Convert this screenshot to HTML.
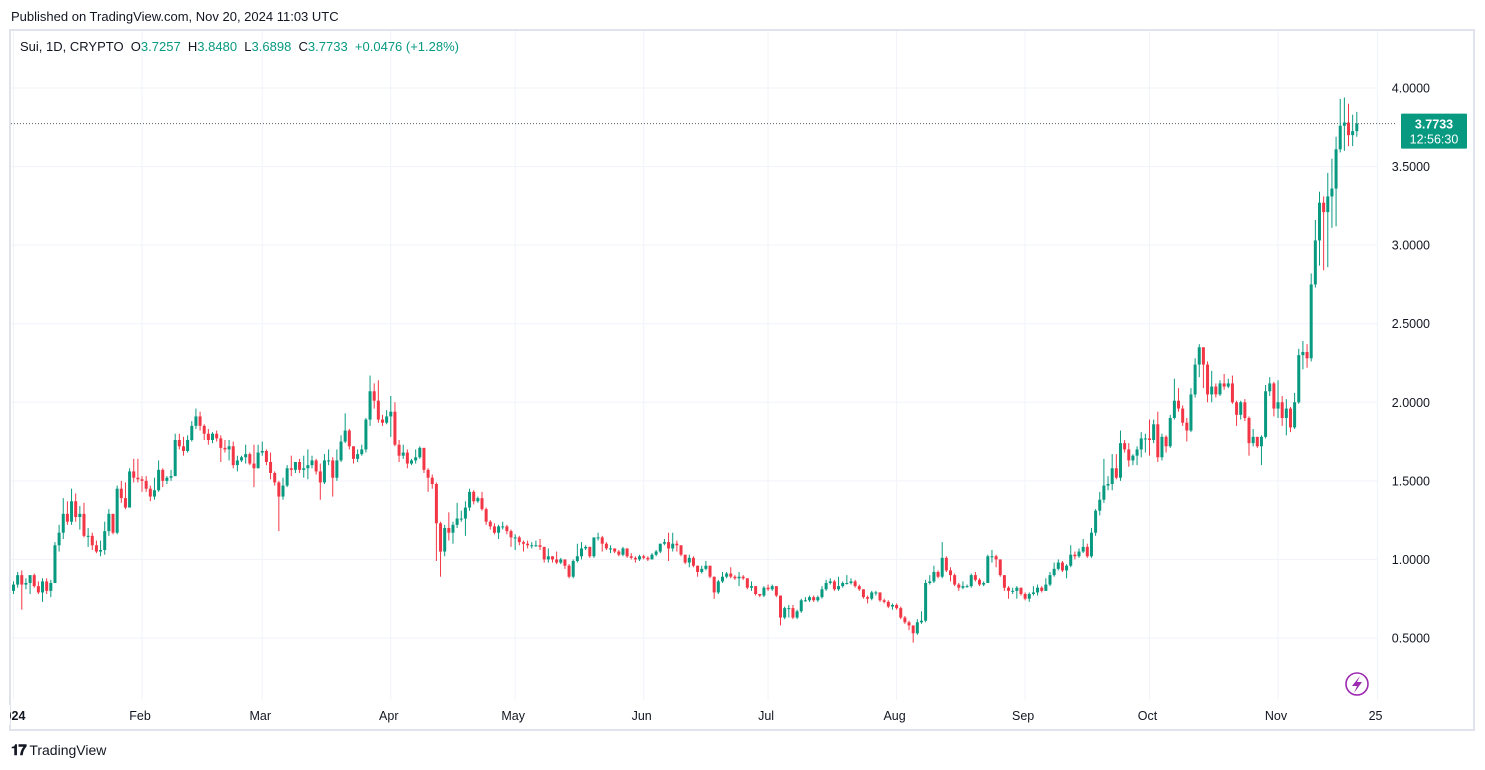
<!DOCTYPE html>
<html><head><meta charset="utf-8"><style>
html,body{margin:0;padding:0;background:#fff;}
body{width:1485px;height:770px;position:relative;overflow:hidden;font-family:"Liberation Sans",sans-serif;}
.t{position:absolute;white-space:nowrap;}
</style></head><body>
<div class="t" style="left:11px;top:9px;font-size:13px;color:#131722;">Published on TradingView.com, Nov 20, 2024 11:03 UTC</div>
<svg id="chart" width="1485" height="770" style="position:absolute;left:0;top:0" xmlns="http://www.w3.org/2000/svg"></svg>
<div class="t" style="left:20px;top:39px;font-size:13px;color:#131722;">Sui, 1D, CRYPTO&nbsp; O<span style="color:#089981">3.7257</span>&nbsp; H<span style="color:#089981">3.8480</span>&nbsp; L<span style="color:#089981">3.6898</span>&nbsp; C<span style="color:#089981">3.7733</span>&nbsp; <span style="color:#089981">+0.0476 (+1.28%)</span></div>
<div class="t" style="left:11px;top:742px;font-size:14px;color:#131722;"><b style="font-size:15px;letter-spacing:-1px">𝟏𝟕</b> TradingView</div>
<script>
const closes=[0.84,0.90,0.84,0.85,0.90,0.83,0.79,0.86,0.80,0.85,1.09,1.17,1.29,1.24,1.37,1.27,1.29,1.15,1.15,1.09,1.05,1.06,1.18,1.29,1.17,1.45,1.39,1.33,1.56,1.52,1.51,
1.50,1.45,1.40,1.44,1.57,1.50,1.52,1.53,1.76,1.72,1.69,1.76,1.85,1.91,1.85,1.80,1.76,1.80,1.77,1.71,1.70,1.72,1.60,1.63,1.65,1.67,1.61,1.58,1.68,
1.69,1.62,1.55,1.49,1.40,1.47,1.58,1.57,1.62,1.57,1.58,1.60,1.63,1.56,1.49,1.63,1.63,1.52,1.63,1.75,1.82,1.72,1.64,1.67,1.70,1.89,2.07,2.01,1.89,1.87,1.91,
1.94,1.73,1.66,1.68,1.61,1.63,1.65,1.71,1.57,1.52,1.48,1.23,1.05,1.20,1.17,1.22,1.26,1.26,1.33,1.43,1.37,1.39,1.32,1.24,1.21,1.17,1.21,1.21,1.18,1.14,
1.14,1.11,1.10,1.09,1.09,1.09,1.08,1.00,1.02,1.00,0.98,1.00,0.96,0.89,0.99,1.02,1.07,1.08,1.02,1.14,1.14,1.10,1.07,1.07,1.05,1.03,1.07,1.02,1.01,1.00,1.02,
1.01,1.00,1.03,1.05,1.10,1.11,1.07,1.10,1.09,1.03,0.98,1.01,0.96,0.92,0.94,0.96,0.89,0.79,0.86,0.89,0.91,0.89,0.88,0.89,0.88,0.82,0.83,0.78,0.77,0.82,
0.81,0.83,0.77,0.63,0.69,0.69,0.63,0.67,0.74,0.74,0.76,0.74,0.76,0.81,0.85,0.86,0.81,0.83,0.85,0.85,0.86,0.83,0.81,0.76,0.75,0.79,0.79,0.74,0.73,0.70,0.71,
0.69,0.63,0.60,0.58,0.53,0.60,0.61,0.85,0.86,0.92,0.89,1.01,0.93,0.90,0.84,0.82,0.83,0.83,0.90,0.87,0.84,0.85,1.02,1.02,1.00,0.90,0.82,0.80,0.80,0.82,0.78,
0.75,0.78,0.79,0.82,0.80,0.84,0.90,0.94,0.98,0.93,0.96,1.03,1.02,1.05,1.08,1.02,1.17,1.31,1.38,1.47,1.48,1.58,1.52,1.74,1.70,1.63,1.66,1.70,1.77,1.77,
1.76,1.86,1.65,1.78,1.72,1.90,2.01,1.96,1.87,1.82,2.05,2.24,2.35,2.24,2.05,2.10,2.05,2.12,2.10,2.12,2.00,1.92,2.00,1.90,1.74,1.78,1.72,1.78,2.07,2.12,1.96,
2.00,1.90,1.96,1.84,2.00,2.30,2.32,2.28,2.75,3.03,3.27,3.21,3.31,3.36,3.61,3.76,3.78,3.70,3.7257,3.7733];
const highs=[0.86,0.92,0.93,0.88,0.90,0.91,0.86,0.88,0.88,0.87,1.11,1.22,1.39,1.37,1.45,1.42,1.34,1.36,1.20,1.17,1.12,1.12,1.24,1.32,1.29,1.47,1.50,1.49,1.58,1.64,1.64,
1.53,1.53,1.47,1.52,1.63,1.58,1.53,1.57,1.80,1.80,1.78,1.79,1.88,1.96,1.94,1.86,1.83,1.81,1.82,1.79,1.76,1.76,1.75,1.66,1.66,1.73,1.68,1.73,1.73,
1.75,1.70,1.68,1.56,1.50,1.52,1.60,1.66,1.62,1.64,1.66,1.70,1.66,1.64,1.61,1.67,1.70,1.65,1.70,1.79,1.93,1.83,1.72,1.70,1.73,1.90,2.17,2.12,2.14,1.92,1.95,
2.04,2.00,1.76,1.73,1.70,1.64,1.70,1.72,1.71,1.58,1.54,1.49,1.24,1.22,1.30,1.24,1.36,1.31,1.37,1.45,1.44,1.40,1.43,1.33,1.25,1.23,1.22,1.24,1.22,1.19,
1.16,1.15,1.12,1.12,1.11,1.12,1.13,1.08,1.07,1.02,1.05,1.01,1.00,0.97,1.00,1.10,1.11,1.09,1.08,1.14,1.17,1.15,1.11,1.09,1.07,1.06,1.08,1.07,1.04,1.02,1.03,
1.03,1.02,1.04,1.06,1.10,1.13,1.17,1.17,1.12,1.09,1.03,1.03,1.02,0.96,0.96,0.99,0.96,0.89,0.87,0.92,0.92,0.95,0.90,0.92,0.90,0.88,0.86,0.83,0.78,0.83,
0.84,0.84,0.83,0.77,0.70,0.71,0.71,0.68,0.75,0.76,0.77,0.77,0.77,0.83,0.87,0.88,0.87,0.89,0.86,0.90,0.88,0.87,0.84,0.81,0.77,0.80,0.80,0.79,0.75,0.74,0.72,
0.72,0.70,0.64,0.61,0.58,0.62,0.67,0.87,0.90,0.96,0.93,1.11,1.02,0.95,0.91,0.85,0.86,0.84,0.91,0.92,0.88,0.86,1.03,1.06,1.03,1.00,0.90,0.83,0.82,0.83,0.82,
0.79,0.79,0.83,0.84,0.83,0.88,0.92,0.98,1.00,0.99,0.97,1.09,1.05,1.07,1.13,1.10,1.20,1.32,1.43,1.64,1.53,1.67,1.67,1.82,1.76,1.74,1.67,1.72,1.81,1.80,
1.89,1.89,1.94,1.80,1.79,1.92,2.15,2.09,1.98,1.90,2.09,2.28,2.37,2.35,2.26,2.20,2.12,2.14,2.18,2.15,2.17,2.01,2.01,2.02,1.91,1.83,1.78,1.79,2.11,2.16,2.13,
2.14,2.04,2.02,1.97,2.06,2.34,2.39,2.37,2.82,3.16,3.34,3.31,3.46,3.55,3.69,3.93,3.94,3.90,3.83,3.848];
const lows=[0.78,0.82,0.68,0.81,0.78,0.82,0.78,0.73,0.78,0.76,0.85,1.05,1.13,1.22,1.22,1.24,1.19,1.14,1.08,1.06,1.04,1.02,1.03,1.15,1.16,1.16,1.36,1.32,1.33,1.49,1.49,
1.43,1.43,1.37,1.38,1.43,1.46,1.48,1.50,1.53,1.70,1.66,1.68,1.75,1.83,1.82,1.76,1.73,1.74,1.75,1.62,1.68,1.63,1.58,1.56,1.62,1.61,1.60,1.46,1.58,
1.66,1.60,1.51,1.47,1.18,1.38,1.46,1.53,1.55,1.55,1.52,1.51,1.58,1.54,1.38,1.48,1.60,1.40,1.50,1.62,1.74,1.70,1.61,1.62,1.66,1.68,1.85,1.96,1.87,1.85,1.86,
1.78,1.72,1.62,1.64,1.58,1.60,1.61,1.64,1.55,1.43,1.45,0.99,0.89,1.02,1.12,1.10,1.20,1.24,1.15,1.31,1.35,1.36,1.31,1.22,1.19,1.16,1.13,1.19,1.16,1.08,
1.06,1.09,1.05,1.07,1.07,1.08,1.06,0.98,0.98,0.98,0.97,0.97,0.94,0.88,0.88,0.98,1.00,1.06,1.01,1.01,1.12,1.05,1.06,1.04,1.04,1.02,1.02,1.01,1.00,0.98,0.99,
1.00,0.99,1.00,1.02,1.04,1.09,0.99,1.05,1.05,1.02,0.97,0.95,0.95,0.89,0.91,0.93,0.88,0.75,0.78,0.85,0.88,0.88,0.87,0.83,0.87,0.81,0.80,0.77,0.76,0.76,
0.80,0.80,0.76,0.58,0.62,0.63,0.62,0.62,0.66,0.73,0.73,0.73,0.73,0.75,0.80,0.84,0.80,0.80,0.82,0.84,0.84,0.82,0.80,0.75,0.72,0.74,0.77,0.73,0.72,0.69,0.68,
0.68,0.62,0.59,0.55,0.47,0.52,0.59,0.60,0.84,0.85,0.88,0.88,0.92,0.86,0.83,0.80,0.81,0.82,0.82,0.86,0.83,0.83,0.85,0.98,0.95,0.89,0.80,0.75,0.78,0.75,0.77,
0.74,0.73,0.77,0.77,0.79,0.80,0.83,0.89,0.93,0.92,0.88,0.95,1.00,1.01,1.04,1.01,1.01,1.15,1.28,1.36,1.44,1.44,1.51,1.50,1.68,1.59,1.60,1.60,1.65,1.68,
1.66,1.74,1.62,1.63,1.68,1.71,1.89,1.94,1.85,1.75,1.81,2.03,2.16,2.09,2.00,2.00,2.03,2.04,2.08,2.09,1.99,1.85,1.89,1.88,1.66,1.72,1.71,1.60,1.77,2.04,1.91,
1.90,1.85,1.79,1.81,1.83,1.99,2.21,2.22,2.26,2.73,2.87,2.84,2.86,3.11,3.12,3.59,3.60,3.63,3.63,3.6898];
const priceTicks=[0.5,1.0,1.5,2.0,2.5,3.0,3.5,4.0];
const monthLabels=["2024","Feb","Mar","Apr","May","Jun","Jul","Aug","Sep","Oct","Nov","25"];
const monthDayIndex=[0,31,60,91,121,152,182,213,244,274,305,329];
const firstOpen=0.80;
const lastPrice=3.7733;

const NS="http://www.w3.org/2000/svg";
const svg=document.getElementById('chart');
const X0=13.5, STEP=4.146, PLOT_L=11, PLOT_R=1377, PLOT_T=31, PLOT_B=700;
function xScale(i){return X0+i*STEP;}
function yScale(p){return 88+(4-p)*157.14;}
function mk(tag,attrs,parent){const e=document.createElementNS(NS,tag);for(const k in attrs)e.setAttribute(k,attrs[k]);(parent||svg).appendChild(e);return e;}

const frame=mk('rect',{x:10,y:30,width:1464,height:700,fill:'none',stroke:'#e0e3eb','stroke-width':2});


const gridG=mk('g',{});


priceTicks.forEach(p=>{
  const y=yScale(p);
  const l=mk('line',{x1:PLOT_L,x2:PLOT_R,y1:y,y2:y,stroke:'#f0f3fa','stroke-width':1},gridG);
  
  
  const t=mk('text',{x:1430,y:y+4.5,'text-anchor':'end','font-size':12.5,fill:'#131722','font-family':'Liberation Sans, sans-serif'});
  t.textContent=p.toFixed(4);
  
  
});
monthLabels.forEach((m,k)=>{
  const x=xScale(monthDayIndex[k]);
  const l=mk('line',{x1:x,x2:x,y1:PLOT_T,y2:PLOT_B,stroke:'#f0f3fa','stroke-width':1},gridG);
  
  
  const t=mk('text',{x:x-2,y:720,'text-anchor':'middle','font-size':12.5,fill:'#131722','font-weight':k==0?'bold':'normal','font-family':'Liberation Sans, sans-serif'});
  t.textContent=m;
  
  
});
const cp=mk('rect',{x:0,y:705,width:10,height:20,fill:'#fff'});



const lp=mk('line',{x1:PLOT_L,x2:PLOT_R+20,y1:yScale(lastPrice),y2:yScale(lastPrice),stroke:'#5d606b','stroke-width':1,'stroke-dasharray':'1 2'});



const cg=mk('g',{});


closes.forEach((c,i)=>{
  const o=i==0?firstOpen:closes[i-1];
  const up=c>=o, col=up?'#089981':'#f23645';
  const x=xScale(i);
  const g=mk('g',{},cg);
  
  
  mk('line',{x1:x,x2:x,y1:yScale(highs[i]),y2:yScale(lows[i]),stroke:col,'stroke-width':1},g);
  const yt=yScale(Math.max(o,c)), yb=yScale(Math.min(o,c));
  mk('rect',{x:x-1.5,y:yt,width:3,height:Math.max(1,yb-yt),fill:col},g);
});

const bg=mk('g',{});


const by=yScale(lastPrice);
mk('rect',{x:1401,y:by-10,width:66,height:35,fill:'#089981',rx:1},bg);
const t1=mk('text',{x:1434,y:by+5,'text-anchor':'middle','font-size':12.5,fill:'#fff','font-weight':'bold','font-family':'Liberation Sans, sans-serif'},bg);
t1.textContent=lastPrice.toFixed(4);
const t2=mk('text',{x:1434,y:by+20,'text-anchor':'middle','font-size':12.5,fill:'#fff','font-family':'Liberation Sans, sans-serif'},bg);
t2.textContent='12:56:30';

const ic=mk('g',{});


mk('circle',{cx:1357,cy:684,r:11,fill:'#fff',stroke:'#9c27b0','stroke-width':1.6},ic);
mk('path',{d:'M1360 676 L1352 686 L1357 686 L1354 693 L1362 682 L1357 682 Z',fill:'#9c27b0'},ic);
</script>
</body></html>
